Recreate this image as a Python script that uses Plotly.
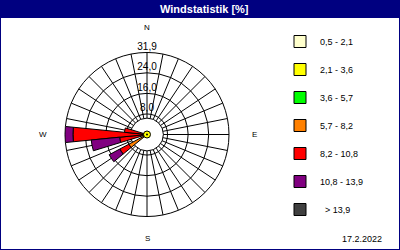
import plotly.graph_objects as go

# compass directions (32 sectors, degrees clockwise from north)
directions = [0, 11.25, 22.5, 33.75, 45, 56.25, 67.5, 78.75,
              90, 101.25, 112.5, 123.75, 135, 146.25, 157.5, 168.75,
              180, 191.25, 202.5, 213.75, 225, 236.25, 247.5, 258.75,
              270, 281.25, 292.5, 303.75, 315, 326.25, 337.5, 348.75]

speed_classes = ["0,5 - 2,1", "2,1 - 3,6", "3,6 - 5,7", "5,7 - 8,2",
                 "8,2 - 10,8", "10,8 - 13,9", "  > 13,9"]
class_colors = ["#FFFFCC", "#FFFF00", "#00FF00", "#FF8000",
                "#FF0000", "#800080", "#404040"]

def z():
    return [0] * 32

# share of time [%] per direction and speed class (non-zero sectors only)
s_05_21 = z();  s_21_36 = z();  s_36_57 = z();  s_57_82 = z()
s_82_108 = z(); s_108_139 = z(); s_gt139 = z()
# 236.25 deg
s_05_21[21] = 0.3; s_21_36[21] = 0.3; s_36_57[21] = 0.4; s_57_82[21] = 7.0
s_82_108[21] = 4.0; s_108_139[21] = 4.7
# 258.75 deg
s_05_21[23] = 0.2; s_21_36[23] = 0.3; s_36_57[23] = 0.3; s_57_82[23] = 0.8
s_82_108[23] = 9.1; s_108_139[23] = 11.1
# 270 deg
s_05_21[24] = 0.3; s_21_36[24] = 0.4; s_36_57[24] = 0.5; s_57_82[24] = 0.8
s_82_108[24] = 26.8; s_108_139[24] = 3.1
# 281.25 deg
s_05_21[25] = 0.2; s_21_36[25] = 0.3; s_36_57[25] = 0.3; s_57_82[25] = 0.7
s_82_108[25] = 7.3

series = [s_05_21, s_21_36, s_36_57, s_57_82, s_82_108, s_108_139, s_gt139]

radial_ticks = [8.0, 16.0, 24.0, 31.9]
radial_labels = ["8,0", "16,0", "24,0", "31,9"]
r_max = 31.9
calm = [0]
date_text = "17.2.2022"
title_text = "Windstatistik [%]"

NAVY = "#000080"
FONT = "Liberation Sans"
HOLE = 0.2

fig = go.Figure()

# invisible trace so the grid subplot is drawn
fig.add_trace(go.Scatterpolar(
    r=[r_max], theta=[0], mode="markers", marker=dict(opacity=0),
    subplot="polar", showlegend=False, hoverinfo="skip",
))

for name, col, vals in zip(speed_classes, class_colors, series):
    fig.add_trace(go.Barpolar(
        r=[v if v else None for v in vals], theta=directions, width=11.25,
        name=name, marker=dict(color=col, line=dict(color="black", width=1)),
        subplot="polar2", legendgroup=name, showlegend=True,
    ))

# radial tick labels along the north spoke
fig.add_trace(go.Scatterpolar(
    r=radial_ticks, theta=[0] * len(radial_ticks), text=radial_labels,
    mode="text", textposition="top center", cliponaxis=False,
    textfont=dict(family=FONT, size=10, color="black"),
    subplot="polar2", showlegend=False, hoverinfo="skip",
))
# calm marker at the centre
fig.add_trace(go.Scatterpolar(
    r=calm, theta=[0], mode="markers", cliponaxis=False,
    marker=dict(size=7, color="#FFFF00", line=dict(color="black", width=1)),
    subplot="polar2", showlegend=False, hoverinfo="skip",
))
fig.add_trace(go.Scatterpolar(
    r=calm, theta=[0], mode="markers", cliponaxis=False,
    marker=dict(size=2, color="black"),
    subplot="polar2", showlegend=False, hoverinfo="skip",
))

dom = dict(x=[0.1625, 0.5725], y=[0.134, 0.79])
fig.update_layout(
    width=400, height=250,
    margin=dict(l=0, r=0, t=0, b=0),
    paper_bgcolor="white",
    font=dict(family=FONT, size=9, color="black"),
    polar=dict(
        domain=dom, bgcolor="white", hole=HOLE,
        radialaxis=dict(range=[HOLE * r_max, r_max], tickvals=radial_ticks[:3],
                        showticklabels=False, ticks="", showline=False,
                        gridcolor="black", gridwidth=1),
        angularaxis=dict(rotation=90, direction="clockwise",
                         tickmode="array", tickvals=directions,
                         showticklabels=False, ticks="",
                         gridcolor="black", gridwidth=1,
                         linecolor="black", linewidth=1),
    ),
    polar2=dict(
        domain=dom, bgcolor="rgba(0,0,0,0)", barmode="stack",
        radialaxis=dict(range=[0, r_max], visible=False, showgrid=False),
        angularaxis=dict(rotation=90, direction="clockwise", showgrid=False,
                         showline=False, showticklabels=False, ticks=""),
    ),
    legend=dict(x=0.7, y=0.892, xanchor="left", yanchor="top",
                bgcolor="rgba(0,0,0,0)", tracegroupgap=9,
                font=dict(family=FONT, size=9), traceorder="grouped"),
    shapes=[
        dict(type="rect", xref="paper", yref="paper", x0=0, x1=1,
             y0=1 - 18 / 250, y1=1, fillcolor=NAVY, line=dict(width=0)),
        dict(type="rect", xref="paper", yref="paper", x0=0, x1=1, y0=0, y1=1,
             line=dict(color=NAVY, width=2)),
    ],
    annotations=[
        dict(text="<b>" + title_text + "</b>", x=0.51, y=1 - 9 / 250,
             xref="paper", yref="paper", showarrow=False, yanchor="middle",
             font=dict(family=FONT, size=11, color="white")),
        dict(text=date_text, x=0.96, y=0.044, xref="paper", yref="paper",
             xanchor="right", yanchor="middle", showarrow=False,
             font=dict(size=9)),
        dict(text="N", x=0.3675, y=0.888, xref="paper", yref="paper",
             yanchor="middle", showarrow=False, font=dict(size=8)),
        dict(text="S", x=0.3675, y=0.048, xref="paper", yref="paper",
             yanchor="middle", showarrow=False, font=dict(size=8)),
        dict(text="E", x=0.6375, y=0.462, xref="paper", yref="paper",
             yanchor="middle", showarrow=False, font=dict(size=8)),
        dict(text="W", x=0.0925, y=0.462, xref="paper", yref="paper",
             yanchor="middle", showarrow=False, font=dict(size=8)),
    ],
)

fig.write_html("out.html")
